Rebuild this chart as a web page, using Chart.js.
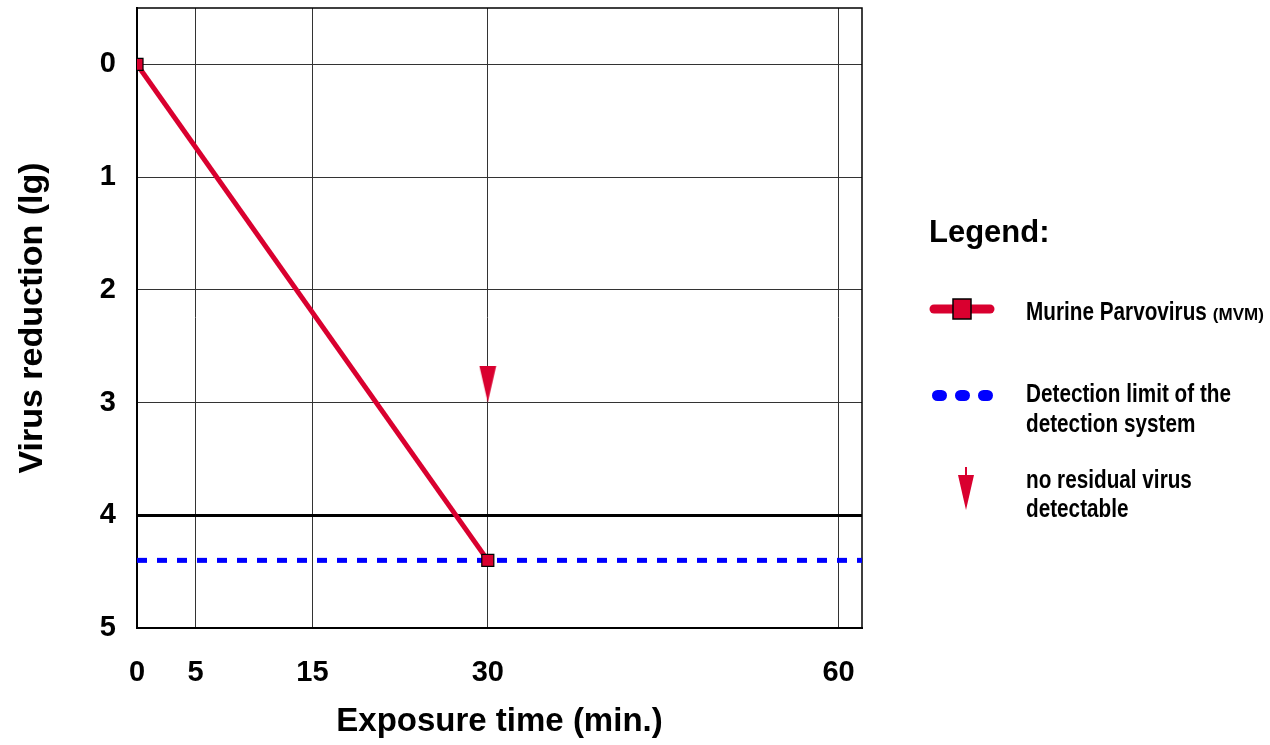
<!DOCTYPE html>
<html>
<head>
<meta charset="utf-8">
<script src="https://cdn.jsdelivr.net/npm/chart.js@4"></script>
<style>
  html, body { margin: 0; padding: 0; background: #fff; }
  #wrap { width: 1270px; height: 745px; position: relative; }
</style>
</head>
<body>
<div id="wrap"><canvas id="chart"></canvas></div>
<script>
// data
const xTicks = [0, 5, 15, 30, 60];
const yTicks = [0, 1, 2, 3, 4, 5];
const mvmTimes = [0, 30];
const mvmReduction = [0, 4.4];
const limitTimes = [0, 62];
const limitReduction = [4.4, 4.4];
const arrowTimes = [30];
const arrowReduction = [3];

const RED = "#d9002f";
const BLUE = "#0000ff";
const FONT = "'Liberation Sans', Arial, Helvetica, sans-serif";

const legendTitle = "Legend:";
const legendItems = [
    ["Murine Parvovirus", "(MVM)"],
    ["Detection limit of the", "detection system"],
    ["no residual virus", "detectable"],
];

// arrow marker: tip sits at the data point (canvas centre)
function makeArrow() {
    const c = document.createElement("canvas");
    c.width = 18;
    c.height = 74;
    const g = c.getContext("2d");
    g.fillStyle = RED;
    g.beginPath();
    g.moveTo(0.5, 0);
    g.lineTo(17.5, 0);
    g.lineTo(9, 37);
    g.closePath();
    g.fill();
    return c;
}

const toPts = (xs, ys) => xs.map((x, i) => ({ x: x, y: ys[i] }));

// box border on top/right
const frame = {
    id: "frame",
    beforeDatasetsDraw(chart) {
        const { ctx, chartArea: a } = chart;
        ctx.save();
        ctx.strokeStyle = "#000";
        ctx.lineWidth = 1.5;
        ctx.beginPath();
        ctx.moveTo(a.left, a.top);
        ctx.lineTo(a.right, a.top);
        ctx.lineTo(a.right, a.bottom);
        ctx.stroke();
        ctx.restore();
    },
};

// the legend text in the figure is a narrow bold face: squeeze Arial-like text
function narrowText(ctx, text, x, y, sx) {
    ctx.save();
    ctx.translate(x, y);
    ctx.scale(sx, 1);
    ctx.fillText(text, 0, 0);
    ctx.restore();
}

const sideLegend = {
    id: "sideLegend",
    afterDraw(chart) {
        const ctx = chart.ctx;
        ctx.save();
        ctx.fillStyle = "#000";
        ctx.textBaseline = "alphabetic";
        ctx.textAlign = "left";

        ctx.font = "bold 31px " + FONT;
        ctx.fillText(legendTitle, 929, 242);

        ctx.font = "bold 26px " + FONT;
        const sx = 205 / ctx.measureText(legendItems[1][0]).width;
        const tx = 1026;

        // MVM line + square
        ctx.strokeStyle = RED;
        ctx.lineWidth = 9;
        ctx.lineCap = "round";
        ctx.beginPath();
        ctx.moveTo(934, 309);
        ctx.lineTo(990, 309);
        ctx.stroke();
        ctx.fillStyle = RED;
        ctx.fillRect(953, 299, 18, 20);
        ctx.strokeStyle = "#000";
        ctx.lineWidth = 1.5;
        ctx.strokeRect(953, 299, 18, 20);

        ctx.fillStyle = "#000";
        narrowText(ctx, legendItems[0][0], tx, 320, sx);
        const w0 = ctx.measureText(legendItems[0][0]).width * sx;
        ctx.font = "bold 17px " + FONT;
        ctx.fillText(legendItems[0][1], tx + w0 + 6, 320);

        // detection limit dots
        ctx.strokeStyle = BLUE;
        ctx.lineWidth = 11;
        ctx.lineCap = "round";
        [932, 955, 978].forEach(x0 => {
            ctx.beginPath();
            ctx.moveTo(x0 + 5.5, 395.5);
            ctx.lineTo(x0 + 9.5, 395.5);
            ctx.stroke();
        });
        ctx.font = "bold 26px " + FONT;
        narrowText(ctx, legendItems[1][0], tx, 402, sx);
        narrowText(ctx, legendItems[1][1], tx, 432, sx);

        // arrow
        ctx.strokeStyle = RED;
        ctx.lineWidth = 2;
        ctx.lineCap = "butt";
        ctx.beginPath();
        ctx.moveTo(966, 467);
        ctx.lineTo(966, 478);
        ctx.stroke();
        ctx.fillStyle = RED;
        ctx.beginPath();
        ctx.moveTo(958, 475);
        ctx.lineTo(974, 475);
        ctx.lineTo(966, 510);
        ctx.closePath();
        ctx.fill();
        ctx.fillStyle = "#000";
        narrowText(ctx, legendItems[2][0], tx, 488, sx);
        narrowText(ctx, legendItems[2][1], tx, 517, sx);

        ctx.restore();
    },
};

const ctx = document.getElementById("chart").getContext("2d");
new Chart(ctx, {
    type: "line",
    data: {
        datasets: [
            {
                label: "Murine Parvovirus (MVM)",
                data: toPts(mvmTimes, mvmReduction),
                borderColor: RED,
                borderWidth: 5,
                pointStyle: "rect",
                pointRadius: 8.5,
                pointBackgroundColor: RED,
                pointBorderColor: "#000",
                pointBorderWidth: 1.2,
                tension: 0,
            },
            {
                label: "Detection limit of the detection system",
                data: toPts(limitTimes, limitReduction),
                borderColor: BLUE,
                borderWidth: 5,
                borderDash: [10, 10],
                pointRadius: 0,
            },
            {
                label: "no residual virus detectable",
                data: toPts(arrowTimes, arrowReduction),
                showLine: false,
                pointStyle: makeArrow(),
                pointRadius: 10,
            },
        ],
    },
    options: {
        responsive: true,
        maintainAspectRatio: false,
        animation: false,
        events: [],
        layout: { autoPadding: false, padding: { top: 8, right: 408, bottom: 0, left: 0 } },
        plugins: {
            legend: { display: false },
            tooltip: { enabled: false },
        },
        scales: {
            x: {
                type: "linear",
                min: 0,
                max: 62,
                afterBuildTicks: s => { s.ticks = xTicks.map(v => ({ value: v })); },
                afterFit: s => {
                    s.height = 117;
                    s.paddingLeft = 0;
                    s.paddingRight = 0;
                },
                ticks: {
                    padding: 28,
                    color: "#000",
                    font: { family: FONT, size: 29, weight: "bold" },
                },
                grid: { color: "#333", lineWidth: 1, drawTicks: false },
                border: { color: "#000", width: 2 },
                title: {
                    display: true,
                    text: "Exposure time (min.)",
                    color: "#000",
                    font: { family: FONT, size: 33, weight: "bold" },
                    padding: { top: 0, bottom: 3 },
                },
            },
            y: {
                type: "linear",
                reverse: true,
                min: -0.5,
                max: 5,
                afterBuildTicks: s => { s.ticks = yTicks.map(v => ({ value: v })); },
                afterFit: s => {
                    s.width = 137;
                    s.paddingTop = 0;
                    s.paddingBottom = 0;
                },
                ticks: {
                    padding: 21,
                    color: "#000",
                    font: { family: FONT, size: 29, weight: "bold" },
                },
                grid: {
                    drawTicks: false,
                    color: c => (c.tick && c.tick.value === 4 ? "#000" : "#333"),
                    lineWidth: c => (c.tick && c.tick.value === 4 ? 3 : 1),
                },
                border: { color: "#000", width: 2 },
                title: {
                    display: true,
                    text: "Virus reduction (lg)",
                    color: "#000",
                    font: { family: FONT, size: 34, weight: "bold" },
                    padding: { top: 12, bottom: 0 },
                },
            },
        },
    },
    plugins: [frame, sideLegend],
});
</script>
</body>
</html>
